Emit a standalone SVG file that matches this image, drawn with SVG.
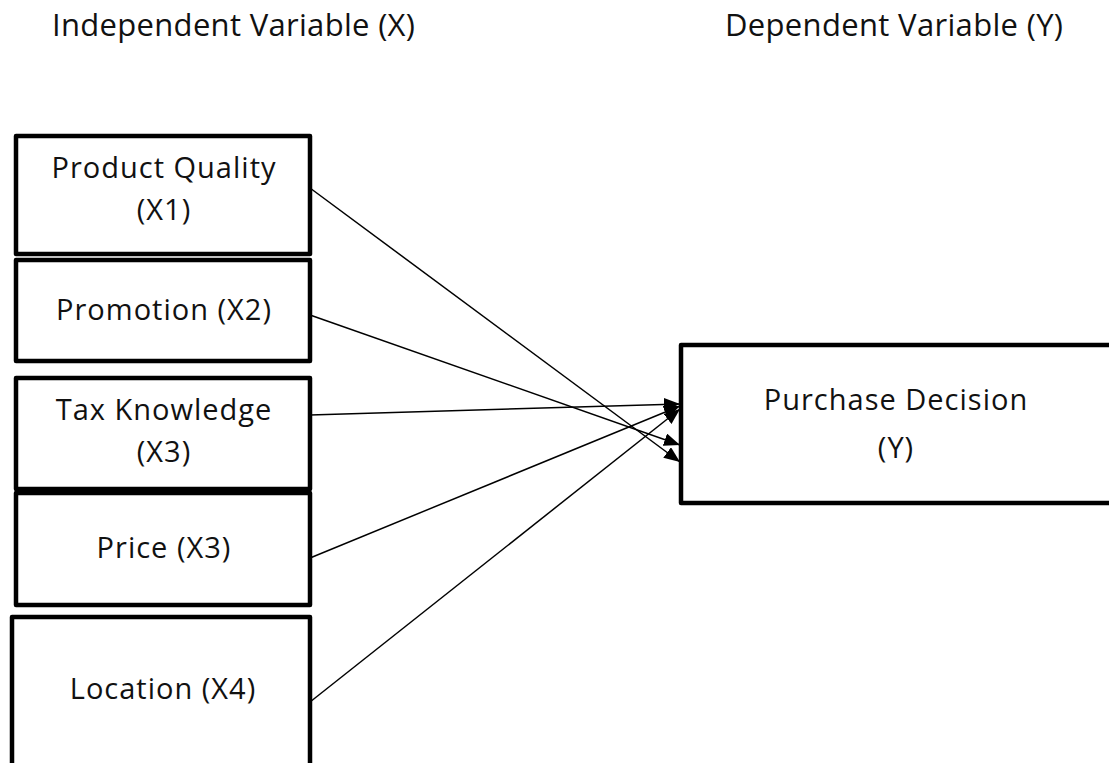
<svg xmlns="http://www.w3.org/2000/svg" width="1109" height="763" viewBox="0 0 1109 763">
<style>
.box{fill:#fff;stroke:#000;stroke-width:4.5;stroke-linejoin:round}
.t{font-family:"Open Sans","Noto Sans","Liberation Sans",sans-serif;font-weight:400;font-size:29px;letter-spacing:1px;fill:#111;text-anchor:middle;font-variant-ligatures:none}
.h{font-family:"Open Sans","Noto Sans","Liberation Sans",sans-serif;font-weight:400;font-size:31px;fill:#111;font-variant-ligatures:none}
.c{stroke:#000;stroke-width:1.5;fill:none;marker-end:url(#ah)}
</style>
<defs>
<marker id="ah" markerUnits="userSpaceOnUse" markerWidth="17" markerHeight="13" refX="16" refY="6.5" orient="auto">
<path d="M0,0 L16,6.5 L0,13 z" fill="#000"/>
</marker>
</defs>
<rect width="1109" height="763" fill="#fff"/>
<text class="h" x="52" y="36" textLength="363" lengthAdjust="spacing">Independent Variable (X)</text>
<text class="h" x="725" y="36" textLength="338" lengthAdjust="spacing">Dependent Variable (Y)</text>
<g id="connectors">
<line class="c" x1="310" y1="188" x2="680" y2="462"/>
<line class="c" x1="310" y1="315" x2="680" y2="445"/>
<line class="c" x1="310" y1="415" x2="680" y2="404"/>
<line class="c" x1="310" y1="558" x2="680" y2="406"/>
<line class="c" x1="310" y1="702" x2="680" y2="409"/>
</g>
<g id="n1"><rect class="box" x="16" y="136" width="294" height="118"/><text class="t" x="164" y="178">Product Quality</text><text class="t" x="164" y="220">(X1)</text></g>
<g id="n2"><rect class="box" x="16" y="260" width="294" height="101"/><text class="t" x="164" y="320">Promotion (X2)</text></g>
<g id="n3"><rect class="box" x="16" y="378" width="294" height="111"/><text class="t" x="164" y="420">Tax Knowledge</text><text class="t" x="164" y="462">(X3)</text></g>
<g id="n4"><rect class="box" x="16" y="493" width="294" height="112"/><text class="t" x="164" y="558">Price (X3)</text></g>
<g id="n5"><rect class="box" x="12" y="617" width="298" height="200"/><text class="t" x="163" y="699">Location (X4)</text></g>
<g id="ny"><rect class="box" x="681" y="345" width="500" height="158"/><text class="t" x="896" y="410">Purchase Decision</text><text class="t" x="896" y="458">(Y)</text></g>
</svg>
